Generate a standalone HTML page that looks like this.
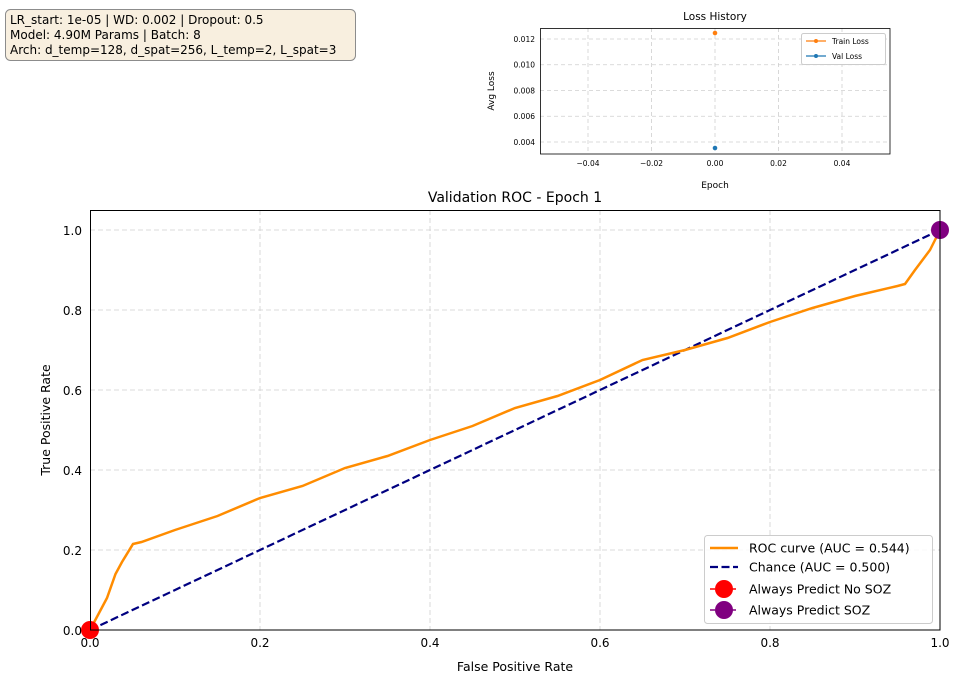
<!DOCTYPE html>
<html><head><meta charset="utf-8"><style>
body{margin:0;background:#fff;}
svg text{font-family:"DejaVu Sans","Liberation Sans",sans-serif;}
</style></head><body>
<svg width="961" height="683" viewBox="0 0 961 683" xmlns="http://www.w3.org/2000/svg">
<rect width="961" height="683" fill="#fff"/>
<rect x="5.5" y="9.5" width="350" height="51" rx="5" fill="#f8efdf" stroke="#8c8c8c"/>
<text x="10" y="24" font-size="12">LR_start: 1e-05 | WD: 0.002 | Dropout: 0.5</text>
<text x="10" y="39" font-size="12">Model: 4.90M Params | Batch: 8</text>
<text x="10" y="54" font-size="12">Arch: d_temp=128, d_spat=256, L_temp=2, L_spat=3</text>
<text x="715" y="20" font-size="10.5" text-anchor="middle">Loss History</text>
<g stroke="#cfcfcf" stroke-dasharray="4,3" stroke-width="0.8">
<line x1="588" y1="28" x2="588" y2="154"/><line x1="651.5" y1="28" x2="651.5" y2="154"/><line x1="715" y1="28" x2="715" y2="154"/><line x1="778.5" y1="28" x2="778.5" y2="154"/><line x1="842" y1="28" x2="842" y2="154"/>
<line x1="540" y1="39" x2="890" y2="39"/><line x1="540" y1="64.75" x2="890" y2="64.75"/><line x1="540" y1="90.5" x2="890" y2="90.5"/><line x1="540" y1="116.25" x2="890" y2="116.25"/><line x1="540" y1="142" x2="890" y2="142"/>
</g>
<rect x="540.5" y="28.5" width="349.5" height="125.5" fill="none" stroke="#000" stroke-width="0.8"/>
<g font-size="7.5" text-anchor="middle">
<text x="588" y="166">−0.04</text><text x="651.5" y="166">−0.02</text><text x="715" y="166">0.00</text><text x="778.5" y="166">0.02</text><text x="842" y="166">0.04</text>
</g>
<g font-size="7.5" text-anchor="end">
<text x="535" y="42">0.012</text><text x="535" y="67.5">0.010</text><text x="535" y="93.5">0.008</text><text x="535" y="119">0.006</text><text x="535" y="145">0.004</text>
</g>
<text x="715" y="188" font-size="9" text-anchor="middle">Epoch</text>
<text x="494" y="91" font-size="9" text-anchor="middle" transform="rotate(-90 494 91)">Avg Loss</text>
<circle cx="715" cy="33" r="2.3" fill="#ff7f0e"/>
<circle cx="715" cy="148" r="2.3" fill="#1f77b4"/>
<rect x="801.5" y="33.5" width="84" height="31" rx="2" fill="#fff" stroke="#ccc"/>
<line x1="806" y1="41" x2="826" y2="41" stroke="#ff7f0e" stroke-width="1.3"/><circle cx="816" cy="41" r="2" fill="#ff7f0e"/>
<text x="832" y="44" font-size="7.5">Train Loss</text>
<line x1="806" y1="56" x2="826" y2="56" stroke="#1f77b4" stroke-width="1.3"/><circle cx="816" cy="56" r="2" fill="#1f77b4"/>
<text x="832" y="59" font-size="7.5">Val Loss</text>
<text x="515" y="202" font-size="14" text-anchor="middle">Validation ROC - Epoch 1</text>
<g stroke="#cfcfcf" stroke-dasharray="5,3" stroke-width="0.8">
<line x1="260" y1="210" x2="260" y2="630"/><line x1="430" y1="210" x2="430" y2="630"/><line x1="600" y1="210" x2="600" y2="630"/><line x1="770" y1="210" x2="770" y2="630"/>
<line x1="90" y1="550" x2="940" y2="550"/><line x1="90" y1="470" x2="940" y2="470"/><line x1="90" y1="390" x2="940" y2="390"/><line x1="90" y1="310" x2="940" y2="310"/><line x1="90" y1="230" x2="940" y2="230"/>
</g>
<line x1="90" y1="630" x2="940" y2="230" stroke="#000080" stroke-width="2.2" stroke-dasharray="8,3.5"/>
<polyline fill="none" stroke="#ff8c00" stroke-width="2.5" points="90,630 107,598 115.5,574 122,562 133,544 141.5,542 175,530 217.5,516 260,498 302.5,486 345,468 387.5,456 430,440 472.5,426 515,408 557.5,396 600,380 642.5,360 685,350 727.5,338 770,322 812.5,308 855,296 897.5,286 905,284 915,270 930,250 940,230"/>
<circle cx="90" cy="630" r="9" fill="#ff0000"/>
<circle cx="940" cy="230" r="9" fill="#800080"/>
<rect x="90.5" y="210.5" width="849.5" height="419.5" fill="none" stroke="#000" stroke-width="1"/>
<g font-size="12" text-anchor="middle">
<text x="90" y="647">0.0</text><text x="260" y="647">0.2</text><text x="430" y="647">0.4</text><text x="600" y="647">0.6</text><text x="770" y="647">0.8</text><text x="940" y="647">1.0</text>
</g>
<g font-size="12" text-anchor="end">
<text x="82" y="635">0.0</text><text x="82" y="555">0.2</text><text x="82" y="475">0.4</text><text x="82" y="395">0.6</text><text x="82" y="315">0.8</text><text x="82" y="235">1.0</text>
</g>
<text x="515" y="671" font-size="12.5" text-anchor="middle">False Positive Rate</text>
<text x="50" y="420" font-size="12.5" text-anchor="middle" transform="rotate(-90 50 420)">True Positive Rate</text>
<rect x="704.5" y="535.5" width="228" height="88" rx="3" fill="#fff" fill-opacity="0.85" stroke="#ccc"/>
<line x1="710" y1="548" x2="738" y2="548" stroke="#ff8c00" stroke-width="2.5"/>
<text x="749" y="552.5" font-size="12.5">ROC curve (AUC = 0.544)</text>
<line x1="710" y1="567" x2="738" y2="567" stroke="#000080" stroke-width="2.2" stroke-dasharray="8,3.5"/>
<text x="749" y="571.5" font-size="12.5">Chance (AUC = 0.500)</text>
<line x1="710" y1="589" x2="738" y2="589" stroke="#ff0000" stroke-width="1.5" stroke-dasharray="5,2"/>
<circle cx="724" cy="589" r="9" fill="#ff0000"/>
<text x="749" y="593.5" font-size="12.5">Always Predict No SOZ</text>
<line x1="710" y1="610" x2="738" y2="610" stroke="#800080" stroke-width="1.5" stroke-dasharray="5,2"/>
<circle cx="724" cy="610" r="9" fill="#800080"/>
<text x="749" y="614.5" font-size="12.5">Always Predict SOZ</text>
</svg>
</body></html>
